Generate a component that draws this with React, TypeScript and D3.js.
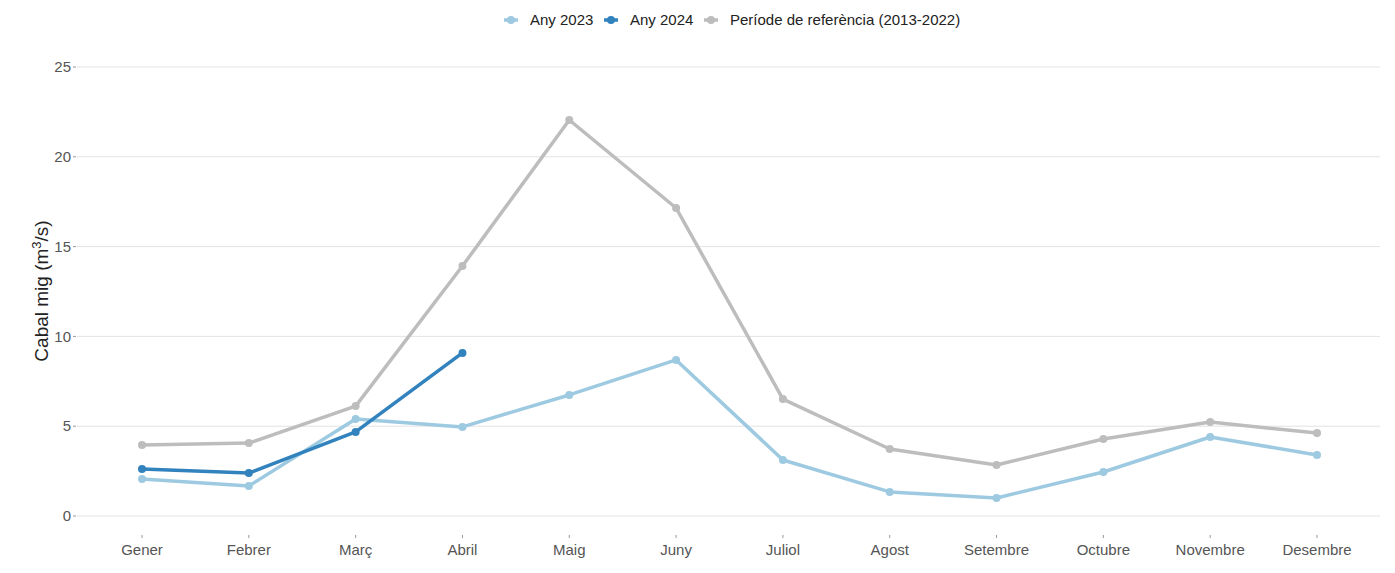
import React from "react";
import * as d3 from "d3";

const months = ["Gener","Febrer","Març","Abril","Maig","Juny","Juliol","Agost","Setembre","Octubre","Novembre","Desembre"];
const y2023 = [2.06,1.67,5.4,4.96,6.74,8.69,3.12,1.34,1.0,2.45,4.4,3.4];
const y2024 = [2.62,2.39,4.68,9.08];
const yRef = [3.95,4.06,6.12,13.92,22.05,17.15,6.51,3.73,2.84,4.29,5.23,4.62];
const yTicks = [0,5,10,15,20,25];

const series = [
  { name: "Període de referència (2013-2022)", values: yRef, color: "#bdbdbd" },
  { name: "Any 2023", values: y2023, color: "#9ecae1" },
  { name: "Any 2024", values: y2024, color: "#3182bd" },
];
const legendOrder = [1, 2, 0];

const W = 1395, H = 573;
const left = 77, right = 1380, top = 67, bottom = 516;

export default function App() {
  const x = d3.scalePoint<string>().domain(months).range([142, 1317]);
  const y = d3.scaleLinear().domain([0, 25]).range([bottom, top]);
  const line = d3.line<number>().x((_, i) => x(months[i])!).y(d => y(d));
  const font = "Arial, 'Liberation Sans', sans-serif";
  return (
    <svg width={W} height={H} style={{ position: "absolute", left: 0, top: 0, background: "#fff" }} fontFamily={font}>
      {yTicks.map(t => (
        <g key={t}>
          <line x1={left} x2={right} y1={y(t)} y2={y(t)} stroke="#e3e3e3" strokeWidth={1} />
          <line x1={73} x2={76} y1={y(t)} y2={y(t)} stroke="#999" strokeWidth={1} />
          <text x={71} y={y(t)} dy="0.35em" textAnchor="end" fontSize={15} fill="#555">{t}</text>
        </g>
      ))}
      {months.map(m => (
        <g key={m}>
          <line x1={x(m)} x2={x(m)} y1={535} y2={538} stroke="#999" strokeWidth={1} />
          <text x={x(m)} y={555} textAnchor="middle" fontSize={15} fill="#555">{m}</text>
        </g>
      ))}
      <text transform={`translate(48,${291}) rotate(-90)`} textAnchor="middle" fontSize={19} fill="#222">
        Cabal mig (m<tspan dy={-7} fontSize={13}>3</tspan><tspan dy={7}>/s)</tspan>
      </text>
      {series.map(s => (
        <g key={s.name}>
          <path d={line(s.values)!} fill="none" stroke={s.color} strokeWidth={3.5} strokeLinejoin="round" strokeLinecap="round" />
          {s.values.map((v, i) => (
            <circle key={i} cx={x(months[i])} cy={y(v)} r={4} fill={s.color} />
          ))}
        </g>
      ))}
      {legendOrder.map((si, k) => {
        const s = series[si];
        const lx = [504, 604, 704][k];
        return (
          <g key={s.name} transform={`translate(${lx},20)`}>
            <line x1={0} x2={14} y1={0} y2={0} stroke={s.color} strokeWidth={3.5} />
            <circle cx={7} cy={0} r={4} fill={s.color} />
            <text x={26} y={0} dy="0.35em" fontSize={15} fill="#222">{s.name}</text>
          </g>
        );
      })}
    </svg>
  );
}
